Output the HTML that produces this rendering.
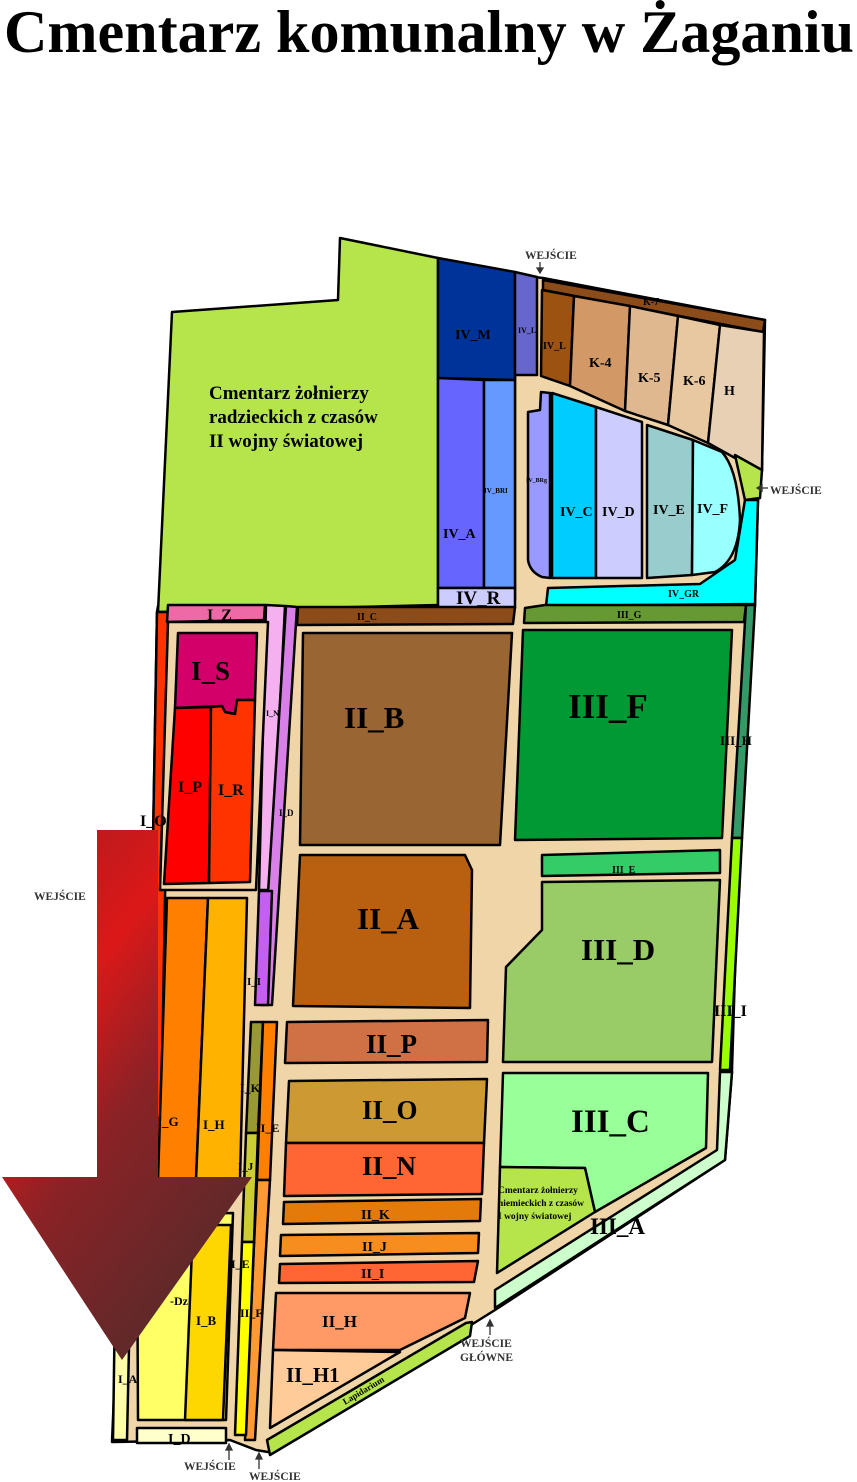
<!DOCTYPE html>
<html><head><meta charset="utf-8"><style>
html,body{margin:0;padding:0;background:#fff;}
svg{display:block}
text{font-family:"Liberation Serif",serif;font-weight:bold;fill:#000}
</style></head><body>
<svg width="857" height="1482" viewBox="0 0 857 1482" xmlns="http://www.w3.org/2000/svg">
<defs>
<linearGradient id="ag" x1="0" y1="0" x2="0.6" y2="1">
<stop offset="0" stop-color="#a01c22"/>
<stop offset="0.35" stop-color="#dc1818"/>
<stop offset="0.6" stop-color="#8a2226"/>
<stop offset="1" stop-color="#5a2a2a"/>
</linearGradient>
</defs>
<text x="4" y="52" font-size="60" textLength="850" lengthAdjust="spacingAndGlyphs">Cmentarz komunalny w Żaganiu</text>

<g stroke="#000" stroke-width="2.5" stroke-linejoin="round">
<polygon fill="#f0d5a8" points="158,606 515,600 515,275 543,278 765,320 762,470 758,500 755,606 746,606 732,1070 732,1072 725,1160 495,1310 268,1452 256,1450 230,1440 112,1442 118,1300 145,1300 157,612"/>
<polygon fill="#b5e54a" points="172,312 338,300 340,238 438,258 438,605 158,612"/>
<polygon fill="#003399" points="438,258 515,272 515,380 438,378"/>
<polygon fill="#6666cc" points="515,272 537,277 537,375 515,375"/>
<polygon fill="#6666ff" points="438,378 484,380 484,588 438,588"/>
<polygon fill="#6699ff" points="484,380 515,380 515,588 484,588"/>
<polygon fill="#ccccff" points="438,588 515,588 515,608 438,608"/>
<polygon fill="#8b4c1a" points="543,280 765,320 763,332 543,290"/>
<polygon fill="#9c5210" points="542,290 574,296 570,386 541,376"/>
<polygon fill="#d29865" points="574,296 630,306 625,411 570,386"/>
<polygon fill="#e0b890" points="630,306 678,316 668,425 625,411"/>
<polygon fill="#e8c8a0" points="678,316 720,325 708,443 668,425"/>
<polygon fill="#e8d0b5" points="720,325 764,332 762,470 735,458 708,443"/>
<polygon fill="#b5e54a" points="735,455 762,470 760,498 745,500"/>
<polygon fill="#00ffff" points="548,588 700,584 735,560 745,500 758,500 755,604 546,606"/>
<path fill="#9999ff" d="M541,392 L550,393 L550,578 L542,577 Q530,572 528,560 L528,412 L540,410 Z"/>
<polygon fill="#00ccff" points="552,393 596,407 596,578 552,578"/>
<polygon fill="#ccccff" points="596,407 642,422 642,578 596,578"/>
<polygon fill="#99cccc" points="647,425 693,440 692,575 647,578"/>
<path fill="#99ffff" d="M693,440 L722,452 Q738,470 740,520 Q738,560 715,572 L692,575 Z"/>
<polygon fill="#669933" points="525,608 545,605 746,605 744,622 524,623"/>
<polygon fill="#339966" points="746,605 755,605 742,838 732,838"/>
<polygon fill="#009933" points="523,630 732,630 722,838 515,840"/>
<polygon fill="#8b4c1a" points="298,607 515,607 513,624 297,625"/>
<polygon fill="#996633" points="303,633 512,633 500,845 300,845"/>
<polygon fill="#33cc66" points="542,855 720,850 720,873 542,876"/>
<polygon fill="#99cc66" points="542,882 720,880 712,1062 503,1062 506,967 542,930"/>
<polygon fill="#99ff00" points="732,838 742,838 730,1070 720,1070"/>
<polygon fill="#b8600f" points="300,855 465,855 472,870 470,1008 293,1006"/>
<polygon fill="#d07045" points="287,1022 488,1020 487,1062 285,1063"/>
<polygon fill="#99ff99" points="503,1073 708,1073 706,1148 595,1212 585,1168 500,1167"/>
<polygon fill="#b5e54a" points="500,1167 585,1168 595,1212 497,1273"/>
<polygon fill="#ccffcc" points="720,1072 732,1072 725,1160 495,1308 495,1290 717,1150"/>
<polygon fill="#cc9933" points="289,1081 487,1079 484,1143 286,1143"/>
<polygon fill="#ff6633" points="286,1143 484,1143 482,1194 284,1196"/>
<polygon fill="#e37a0a" points="284,1202 481,1199 480,1221 283,1224"/>
<polygon fill="#f78c1f" points="281,1235 479,1233 478,1253 280,1256"/>
<polygon fill="#ff6633" points="280,1264 478,1261 474,1282 279,1283"/>
<polygon fill="#ff9966" points="276,1293 470,1293 465,1318 400,1350 273,1350"/>
<polygon fill="#ffcc99" points="273,1350 400,1352 270,1428"/>
<polygon fill="#b5e54a" points="466,1323 472,1322 470,1336 270,1455 267,1440"/>
<polygon fill="#ff3300" points="157,612 170,612 158,1300 145,1300"/>
<polygon fill="#ee6aa7" points="168,605 265,605 264,620 167,622"/>
<polygon fill="#f5b0f0" points="266,605 285,606 271,890 259,890"/>
<polygon fill="#d880e8" points="286,606 297,607 272,1005 261,1005"/>
<polygon fill="#c45ff0" points="259,891 272,891 268,1005 255,1005"/>
<polygon fill="#f0d5a8" points="168,622 268,622 256,890 160,890"/>
<polygon fill="#d4006a" points="178,633 257,633 255,700 237,700 235,714 225,712 222,706 175,708"/>
<polygon fill="#ff0000" points="175,708 211,707 209,883 164,884"/>
<polygon fill="#ff3300" points="211,707 222,706 225,712 235,714 237,700 255,700 250,882 209,883"/>
<polygon fill="#ff8000" points="167,898 208,898 196,1180 158,1180"/>
<polygon fill="#ffb300" points="208,898 247,898 240,1180 196,1180"/>
<polygon fill="#999933" points="251,1022 263,1022 258,1133 246,1133"/>
<polygon fill="#ff8000" points="263,1022 277,1022 270,1180 257,1180"/>
<polygon fill="#cccc33" points="246,1133 258,1133 254,1242 242,1242"/>
<polygon fill="#ff9933" points="257,1180 270,1180 255,1440 245,1440"/>
<polygon fill="#ffff00" points="242,1242 254,1242 246,1435 235,1435"/>
<polygon fill="#ffff66" points="137,1215 233,1213 226,1420 138,1420"/>
<polygon fill="#ffd700" points="193,1225 231,1225 223,1420 185,1420"/>
<polygon fill="#ffffaa" points="115,1300 130,1300 127,1440 113,1440"/>
<polygon fill="#ffffcc" points="137,1428 226,1428 226,1443 137,1443"/>
</g>

<g font-size="19">
<text x="209" y="399">Cmentarz żołnierzy</text>
<text x="209" y="423">radzieckich z czasów</text>
<text x="209" y="447">II wojny światowej</text>
</g>
<g font-size="14">
<text x="455" y="339">IV_M</text><text x="443" y="538">IV_A</text>
<text x="560" y="516">IV_C</text><text x="602" y="516">IV_D</text>
<text x="653" y="514">IV_E</text><text x="697" y="513">IV_F</text>
<text x="589" y="367">K-4</text><text x="638" y="382">K-5</text>
<text x="683" y="385">K-6</text><text x="724" y="395">H</text>
</g>
<g font-size="10">
<text x="543" y="349">IV_L</text><text x="643" y="305">K-7</text>
<text x="668" y="597">IV_GR</text><text x="617" y="618">III_G</text>
<text x="357" y="620">II_C</text><text x="612" y="873">III_E</text>
<text x="207" y="620" font-size="16">I_Z</text>
<text x="720" y="745" font-size="13">III_H</text>
<text x="714" y="1016" font-size="16">III_I</text>
<text x="140" y="826" font-size="16">I_O</text>
<text x="240" y="1092" font-size="12">I_K</text>
<text x="256" y="1132" font-size="12">II_E</text>
<text x="157" y="1126" font-size="13">I_G</text>
<text x="203" y="1129" font-size="13">I_H</text>
<text x="231" y="1268" font-size="12">I_E</text>
<text x="240" y="1317" font-size="12">II_F</text>
<text x="196" y="1325" font-size="13">I_B</text>
<text x="170" y="1305" font-size="12">-Dz</text>
<text x="118" y="1383" font-size="12">I_A</text>
<text x="168" y="1443" font-size="14">I_D</text>
<text x="247" y="985" font-size="11">I_I</text>
<text x="279" y="816" font-size="9">I_D</text>
<text x="266" y="716" font-size="8">I_N</text>
<text x="518" y="333" font-size="8">IV_L</text>
<text x="484" y="493" font-size="7">IV_BRI</text>
<text x="526" y="482" font-size="6">IV_BRg</text>
<text x="238" y="1170" font-size="11">I_J</text>
</g>
<g font-size="16">
<text x="178" y="792">I_P</text><text x="218" y="795">I_R</text>
<text x="456" y="604" font-size="19">IV_R</text>
<text x="361" y="1219" font-size="14">II_K</text>
<text x="362" y="1251" font-size="14">II_J</text>
<text x="361" y="1278" font-size="14">II_I</text>
<text x="322" y="1327" font-size="17">II_H</text>
<text x="286" y="1382" font-size="21">II_H1</text>
<text x="590" y="1234" font-size="23">III_A</text>
</g>
<g font-size="27">
<text x="191" y="680">I_S</text>
<text x="344" y="728" font-size="31">II_B</text>
<text x="568" y="718" font-size="35">III_F</text>
<text x="357" y="929" font-size="31">II_A</text>
<text x="581" y="960" font-size="31">III_D</text>
<text x="366" y="1053">II_P</text>
<text x="362" y="1119">II_O</text>
<text x="362" y="1175">II_N</text>
<text x="571" y="1132" font-size="33">III_C</text>
</g>
<g font-size="9.5">
<text x="498" y="1193">Cmentarz żołnierzy</text>
<text x="498" y="1206">niemieckich z czasów</text>
<text x="498" y="1219">I wojny światowej</text>
</g>
<text x="345" y="1405" font-size="9" transform="rotate(-31 345 1405)">Lapidarium</text>

<g font-size="11.5">
<text x="525" y="259" style="fill:#333">WEJŚCIE</text>
<text x="770" y="494" style="fill:#333">WEJŚCIE</text>
<text x="34" y="900" style="fill:#333">WEJŚCIE</text>
<text x="460" y="1347" style="fill:#333">WEJŚCIE</text>
<text x="460" y="1361" style="fill:#333">GŁÓWNE</text>
<text x="184" y="1470" style="fill:#333">WEJŚCIE</text>
<text x="249" y="1480" style="fill:#333">WEJŚCIE</text>
</g>
<g stroke="#333" stroke-width="1.3" fill="#333">
<line x1="540" y1="262" x2="540" y2="271"/><polygon points="537,268 543,268 540,273"/>
<line x1="768" y1="488" x2="760" y2="488"/><polygon points="762,485 762,491 757,488"/>
<line x1="490" y1="1335" x2="490" y2="1322"/><polygon points="487,1326 493,1326 490,1320"/>
<line x1="229" y1="1460" x2="229" y2="1446"/><polygon points="226,1450 232,1450 229,1444"/>
<line x1="259" y1="1469" x2="259" y2="1455"/><polygon points="256,1459 262,1459 259,1453"/>
</g>

<polygon fill="url(#ag)" points="97,830 158,830 158,1177 252,1177 122,1360 2,1177 97,1177"/>
</svg>
</body></html>
